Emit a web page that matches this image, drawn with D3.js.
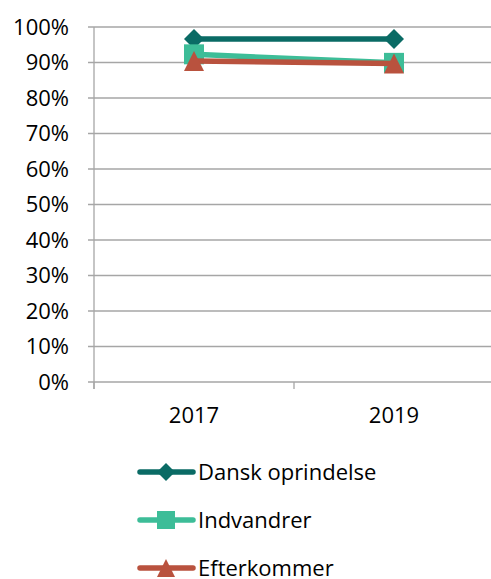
<!DOCTYPE html>
<html>
<head>
<meta charset="utf-8">
<script src="https://cdn.jsdelivr.net/npm/d3@7"></script>
<style>
    body { margin: 0; background: #fff; }
    svg { display: block; font-family: "Open Sans", Lato, sans-serif; }
</style>
</head>
<body>
<svg id="chart" width="491" height="579"></svg>
<script>
// ===== DATA =====
const years = ['2017', '2019'];
const yTicks = [0, 0.1, 0.2, 0.3, 0.4, 0.5, 0.6, 0.7, 0.8, 0.9, 1.0];
const seriesNames = ['Dansk oprindelse', 'Indvandrer', 'Efterkommer'];
const danskValues = [0.966, 0.966];
const indvandrerValues = [0.923, 0.899];
const efterkommerValues = [0.904, 0.897];

const allValues = [danskValues, indvandrerValues, efterkommerValues];
const colors = ['#0a6b65', '#3dbd98', '#b9523e'];

// Excel-like markers, all centred on their bounding box
const diamond = { draw(ctx, size) { const r = size; ctx.moveTo(0, -r); ctx.lineTo(r, 0); ctx.lineTo(0, r); ctx.lineTo(-r, 0); ctx.closePath(); } };
const square = { draw(ctx, size) { const r = size; ctx.rect(-r, -r, 2 * r, 2 * r); } };
const triangle = { draw(ctx, size) { const r = size; ctx.moveTo(0, -r); ctx.lineTo(r, r); ctx.lineTo(-r, r); ctx.closePath(); } };
const symbols = [diamond, square, triangle];
const halfSizes = [10, 10, 10];

// ===== LAYOUT =====
const svg = d3.select('#chart');
const W = 491, H = 579;
const margin = { left: 94, right: -3, top: 27, bottom: 197 };

const x = d3.scaleBand()
    .domain(years)
    .range([margin.left, W - margin.right]);

const y = d3.scaleLinear()
    .domain([0, 1])
    .range([H - margin.bottom, margin.top]);

const axisColor = '#a6a6a6';
const fontSize = 22;

// Gridlines (with short tick stubs left of the axis)
svg.append('g')
    .selectAll('line')
    .data(yTicks)
    .enter().append('line')
    .attr('x1', margin.left - 6)
    .attr('x2', W)
    .attr('y1', d => y(d))
    .attr('y2', d => y(d))
    .attr('stroke', axisColor)
    .attr('stroke-width', 1.3);

// Y labels
svg.append('g')
    .selectAll('text')
    .data(yTicks)
    .enter().append('text')
    .attr('x', 69)
    .attr('y', d => y(d))
    .attr('dy', '0.36em')
    .attr('text-anchor', 'end')
    .attr('font-size', fontSize)
    .attr('fill', '#000')
    .text(d => Math.round(d * 100) + '%');

// Y axis line
svg.append('line')
    .attr('x1', margin.left).attr('x2', margin.left)
    .attr('y1', y(1)).attr('y2', y(0) + 7)
    .attr('stroke', axisColor)
    .attr('stroke-width', 1.3);

// X ticks at band boundaries
const bounds = years.map(d => x(d)).concat([x(years[years.length - 1]) + x.bandwidth()]);
svg.append('g')
    .selectAll('line')
    .data(bounds)
    .enter().append('line')
    .attr('x1', d => d).attr('x2', d => d)
    .attr('y1', y(0)).attr('y2', y(0) + 7)
    .attr('stroke', axisColor)
    .attr('stroke-width', 1.3);

// X labels
svg.append('g')
    .selectAll('text')
    .data(years)
    .enter().append('text')
    .attr('x', d => x(d) + x.bandwidth() / 2)
    .attr('y', 415)
    .attr('dy', '0.36em')
    .attr('text-anchor', 'middle')
    .attr('font-size', fontSize)
    .attr('fill', '#000')
    .text(d => d);

// ===== SERIES =====
const cx = (d, i) => x(years[i]) + x.bandwidth() / 2;
const line = d3.line().x(cx).y(d => y(d));

allValues.forEach((vals, s) => {
    const g = svg.append('g');
    g.append('path')
        .datum(vals)
        .attr('d', line)
        .attr('fill', 'none')
        .attr('stroke', colors[s])
        .attr('stroke-width', 5.5)
        .attr('stroke-linecap', 'round');
    g.selectAll('path.mark')
        .data(vals)
        .enter().append('path')
        .attr('class', 'mark')
        .attr('transform', (d, i) => `translate(${cx(d, i)},${y(d)})`)
        .attr('d', d3.symbol().type(symbols[s]).size(halfSizes[s]))
        .attr('fill', colors[s]);
});

// ===== LEGEND =====
const legend = svg.append('g');
seriesNames.forEach((name, s) => {
    const ly = 472 + s * 48;
    legend.append('line')
        .attr('x1', 140).attr('x2', 193)
        .attr('y1', ly).attr('y2', ly)
        .attr('stroke', colors[s])
        .attr('stroke-width', 5.5)
        .attr('stroke-linecap', 'round');
    legend.append('path')
        .attr('transform', `translate(166,${ly})`)
        .attr('d', d3.symbol().type(symbols[s]).size(halfSizes[s] - 1))
        .attr('fill', colors[s]);
    legend.append('text')
        .attr('x', 198)
        .attr('y', ly)
        .attr('dy', '0.36em')
        .attr('font-size', fontSize)
        .attr('fill', '#000')
        .text(name);
});
</script>
</body>
</html>
